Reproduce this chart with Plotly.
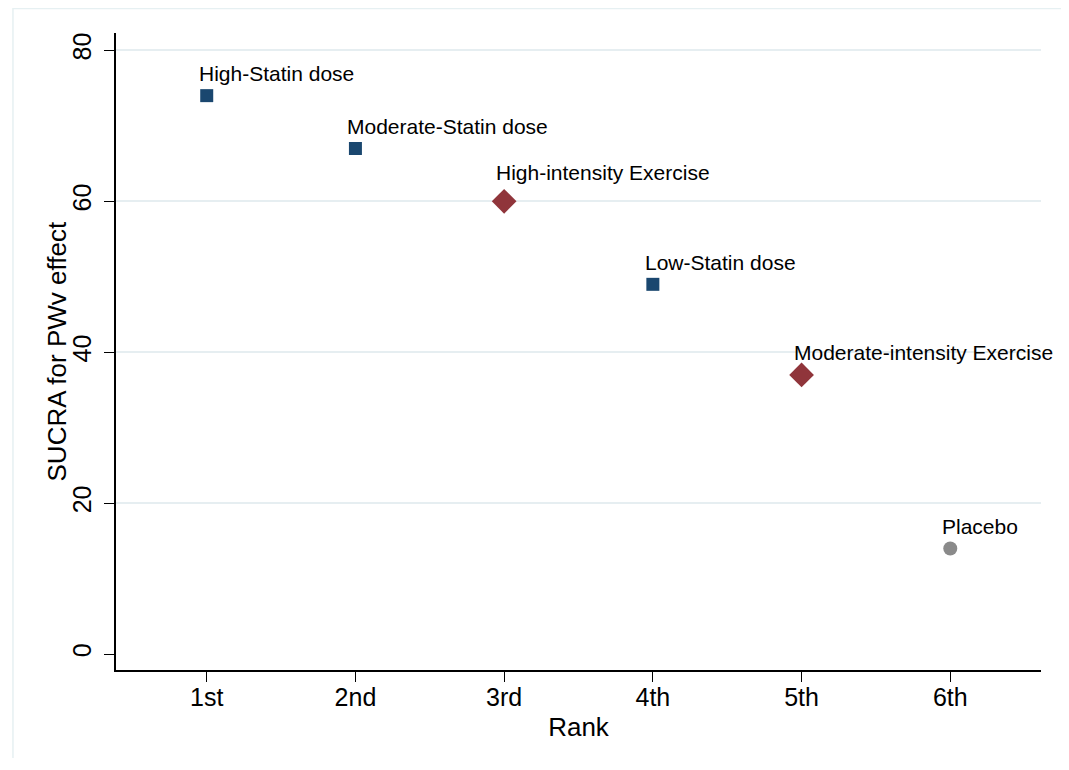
import plotly.graph_objects as go

# ---- data ----
rank_vals = [1, 2, 3, 4, 5, 6]
rank_labels = ["1st", "2nd", "3rd", "4th", "5th", "6th"]

statin_names = ["High-Statin dose", "Moderate-Statin dose", "Low-Statin dose"]
statin_rank = [1, 2, 4]
statin_sucra = [74, 67, 49]

exercise_names = ["High-intensity Exercise", "Moderate-intensity Exercise"]
exercise_rank = [3, 5]
exercise_sucra = [60, 37]

placebo_names = ["Placebo"]
placebo_rank = [6]
placebo_sucra = [14]

y_ticks = [0, 20, 40, 60, 80]
grid_ticks = [20, 40, 60, 80]

FONT = "Liberation Sans, Arial, Helvetica, sans-serif"
NAVY = "#1a476f"
MAROON = "#90353b"
GRAY = "#8a8a8a"

fig = go.Figure()
fig.add_trace(go.Scatter(x=statin_rank, y=statin_sucra, mode="markers",
                         marker=dict(symbol="square", size=13, color=NAVY),
                         showlegend=False, hoverinfo="skip"))
fig.add_trace(go.Scatter(x=exercise_rank, y=exercise_sucra, mode="markers",
                         marker=dict(symbol="diamond", size=19, color=MAROON),
                         showlegend=False, hoverinfo="skip"))
fig.add_trace(go.Scatter(x=placebo_rank, y=placebo_sucra, mode="markers",
                         marker=dict(symbol="circle", size=14, color=GRAY),
                         showlegend=False, hoverinfo="skip"))

# labels above the markers
label_shift = {"High-intensity Exercise": 29}
for names, xs, ys in [(statin_names, statin_rank, statin_sucra),
                      (exercise_names, exercise_rank, exercise_sucra),
                      (placebo_names, placebo_rank, placebo_sucra)]:
    for n, xv, yv in zip(names, xs, ys):
        fig.add_annotation(x=xv, y=yv, text=n, showarrow=False,
                           xanchor="left", yanchor="middle",
                           xshift=-10, yshift=label_shift.get(n, 22),
                           font=dict(family=FONT, size=21, color="#000000"))

# y axis title as annotation (placed close to tick labels, as in the original)
fig.add_annotation(xref="paper", yref="paper", x=-0.0638, y=0.5,
                   text="SUCRA for PWv effect", textangle=-90, showarrow=False,
                   xanchor="center", yanchor="middle",
                   font=dict(family=FONT, size=26, color="#000000"))

yrange = [-2.1, 82.3]

fig.update_layout(
    width=1061, height=750,
    margin=dict(l=108, r=28, t=25, b=88),
    paper_bgcolor="white", plot_bgcolor="white",
    font=dict(family=FONT, color="#000000"),
    xaxis=dict(range=[0.39, 6.61], tickvals=rank_vals, ticktext=rank_labels,
               showgrid=False, zeroline=False, showline=True, linecolor="#000000",
               linewidth=1.5, ticks="outside", ticklen=10, tickwidth=1.3,
               tickcolor="#000000", tickfont=dict(size=25), ticklabelstandoff=-6,
               title=dict(text="Rank", font=dict(size=26), standoff=8)),
    yaxis=dict(range=yrange, tickvals=y_ticks, showgrid=False, zeroline=False,
               showline=True, linecolor="#000000", linewidth=1.5,
               ticks="outside", ticklen=10, tickwidth=1.3, tickcolor="#000000",
               tickangle=-90, tickfont=dict(size=25), ticklabelstandoff=3),
    yaxis2=dict(range=yrange, overlaying="y", tickvals=grid_ticks, showgrid=True,
                gridcolor="#e6eef1", gridwidth=1.5, showticklabels=False,
                zeroline=False, showline=False, ticks="", layer="below traces"),
    shapes=[dict(type="path", xref="paper", yref="paper",
                 path="M -0.1114,-0.3 L -0.1114,1.0385 L 1.026,1.0385 L 1.026,-0.3",
                 line=dict(color="#e6f0f2", width=1.5), fillcolor="rgba(0,0,0,0)",
                 layer="below")],
)
# dummy trace to activate yaxis2 grid
fig.add_trace(go.Scatter(x=[None], y=[None], yaxis="y2", showlegend=False, hoverinfo="skip"))

fig.write_html("out.html")
